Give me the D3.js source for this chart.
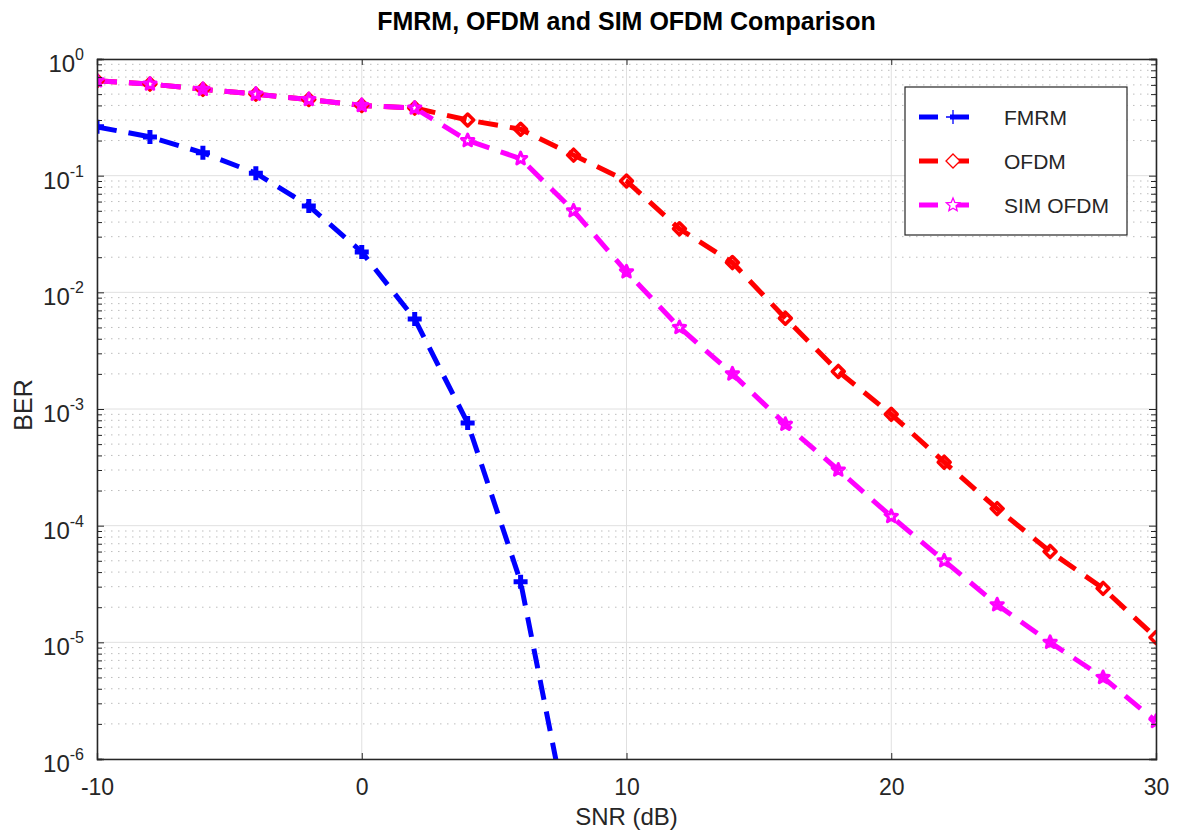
<!DOCTYPE html>
<html lang="en">
<head>
<meta charset="UTF-8">
<title>FMRM, OFDM and SIM OFDM Comparison</title>
<script src="https://cdnjs.cloudflare.com/ajax/libs/d3/7.8.5/d3.min.js"></script>
<style>
  body { margin: 0; background: #fff; }
  svg text { font-family: "Liberation Sans", Arial, sans-serif; }
</style>
</head>
<body>
<svg id="chart" width="1179" height="835"></svg>
<script>
// data
var snr = [-10, -8, -6, -4, -2, 0, 2, 4, 6, 8, 10, 12, 14, 16, 18, 20, 22, 24, 26, 28, 30];
var fmrmSnr = [-10, -8, -6, -4, -2, 0, 2, 4, 6, 8];
var fmrmBer = [0.262, 0.215, 0.157, 0.105, 0.055, 0.0222, 0.0059, 7.6e-4, 3.3e-5, 1.7e-7];
var ofdmBer = [0.65, 0.61, 0.55, 0.5, 0.45, 0.40, 0.38, 0.30, 0.25, 0.15, 0.09, 0.035, 0.018,
               0.006, 0.0021, 9e-4, 3.5e-4, 1.4e-4, 6e-5, 2.9e-5, 1.1e-5];
var simBer = [0.65, 0.61, 0.55, 0.5, 0.45, 0.40, 0.38, 0.20, 0.14, 0.05, 0.015, 0.005, 0.002,
              7.4e-4, 3e-4, 1.2e-4, 5e-5, 2.1e-5, 1e-5, 5e-6, 2.1e-6];
var xTicks = [-10, 0, 10, 20, 30];
var yTicks = [1, 1e-1, 1e-2, 1e-3, 1e-4, 1e-5, 1e-6];
var seriesNames = ['FMRM', 'OFDM', 'SIM OFDM'];
var seriesColors = ['#0000ff', '#ff0000', '#ff00ff'];
var seriesMarkers = ['plus', 'diamond', 'star'];

var svg = d3.select('#chart');
var margin = {top: 59, right: 23, bottom: 76, left: 97};
var width = 1179 - margin.left - margin.right;
var height = 835 - margin.top - margin.bottom;
var axisColor = '#262626';

var x = d3.scaleLinear().domain([-10, 30]).range([0, width]);
var y = d3.scaleLog().domain([1e-6, 1]).range([height, 0]);

var g = svg.append('g')
    .attr('transform', 'translate(' + margin.left + ',' + margin.top + ')');

// minor grid (dotted)
var minor = [];
for (var e = -6; e < 0; e++) {
    for (var m = 2; m <= 9; m++) minor.push(m * Math.pow(10, e));
}
g.selectAll('.minor-grid')
    .data(minor)
    .enter().append('line')
    .attr('x1', 0).attr('x2', width)
    .attr('y1', function (d) { return y(d); })
    .attr('y2', function (d) { return y(d); })
    .attr('stroke', '#bdbdbd')
    .attr('stroke-width', 1)
    .attr('stroke-dasharray', '1.5,5.5');

// major grid
g.selectAll('.ygrid')
    .data(yTicks)
    .enter().append('line')
    .attr('x1', 0).attr('x2', width)
    .attr('y1', function (d) { return y(d); })
    .attr('y2', function (d) { return y(d); })
    .attr('stroke', '#e0e0e0')
    .attr('stroke-width', 1);
g.selectAll('.xgrid')
    .data(xTicks)
    .enter().append('line')
    .attr('y1', 0).attr('y2', height)
    .attr('x1', function (d) { return x(d); })
    .attr('x2', function (d) { return x(d); })
    .attr('stroke', '#e0e0e0')
    .attr('stroke-width', 1);

// clip for the lines
svg.append('defs').append('clipPath').attr('id', 'clip')
    .append('rect').attr('width', width).attr('height', height);

var line = d3.line()
    .x(function (d) { return x(d[0]); })
    .y(function (d) { return y(d[1]); });

var series = [
    d3.zip(fmrmSnr, fmrmBer),
    d3.zip(snr, ofdmBer),
    d3.zip(snr, simBer)
];

function markerPath(type, r) {
    if (type === 'plus') {
        return 'M' + (-r) + ',0L' + r + ',0M0,' + (-r) + 'L0,' + r;
    }
    if (type === 'diamond') {
        return 'M0,' + (-r) + 'L' + r + ',0L0,' + r + 'L' + (-r) + ',0Z';
    }
    // pentagram
    var pts = [];
    for (var i = 0; i < 10; i++) {
        var a = -Math.PI / 2 + i * Math.PI / 5;
        var rr = i % 2 === 0 ? r : r * 0.45;
        pts.push([rr * Math.cos(a), rr * Math.sin(a)]);
    }
    return 'M' + pts.map(function (p) { return p[0].toFixed(2) + ',' + p[1].toFixed(2); }).join('L') + 'Z';
}

var plotArea = g.append('g').attr('clip-path', 'url(#clip)');

series.forEach(function (data, i) {
    plotArea.append('path')
        .datum(data)
        .attr('d', line)
        .attr('fill', 'none')
        .attr('stroke', seriesColors[i])
        .attr('stroke-width', 5)
        .attr('stroke-dasharray', '20,12');
});

var markerSize = {plus: 7, diamond: 6, star: 6.5};
var markerWidth = {plus: 5, diamond: 3.5, star: 3};
series.forEach(function (data, i) {
    var type = seriesMarkers[i];
    plotArea.selectAll('.mk' + i)
        .data(data.filter(function (d) { return d[1] >= 1e-6; }))
        .enter().append('path')
        .attr('transform', function (d) { return 'translate(' + x(d[0]) + ',' + y(d[1]) + ')'; })
        .attr('d', markerPath(type, markerSize[type]))
        .attr('fill', 'none')
        .attr('stroke', seriesColors[i])
        .attr('stroke-width', markerWidth[type])
        .attr('stroke-linejoin', 'round');
});

// axes box with inward ticks
var xAxisB = d3.axisBottom(x).tickValues(xTicks).tickSize(-6).tickPadding(20)
    .tickFormat(function (d) { return String(d); });
var xAxisT = d3.axisTop(x).tickValues(xTicks).tickSize(-6).tickFormat('');
var yAxisL = d3.axisLeft(y).tickValues(yTicks).tickSize(-7).tickFormat('');
var yAxisR = d3.axisRight(y).tickValues(yTicks).tickSize(-7).tickFormat('');
var yMinorL = d3.axisLeft(y).tickValues(minor).tickSize(-5).tickFormat('');
var yMinorR = d3.axisRight(y).tickValues(minor).tickSize(-5).tickFormat('');

function styleAxis(sel) {
    sel.selectAll('path').attr('stroke', axisColor).attr('stroke-width', 1.3);
    sel.selectAll('line').attr('stroke', axisColor).attr('stroke-width', 1);
    sel.selectAll('text').attr('fill', axisColor).style('font-size', '23px')
        .style('font-family', '"Liberation Sans", Arial, sans-serif');
}

g.append('g').attr('transform', 'translate(0,' + height + ')').call(xAxisB).call(styleAxis);
g.append('g').call(xAxisT).call(styleAxis);
g.append('g').call(yMinorL).call(styleAxis);
g.append('g').attr('transform', 'translate(' + width + ',0)').call(yMinorR).call(styleAxis);
g.append('g').call(yAxisL).call(styleAxis);
g.append('g').attr('transform', 'translate(' + width + ',0)').call(yAxisR).call(styleAxis);

// y tick labels as 10^n
g.selectAll('.ylab')
    .data(yTicks)
    .enter().append('text')
    .attr('x', -13)
    .attr('y', function (d) { return y(d) + 13; })
    .attr('text-anchor', 'end')
    .attr('fill', axisColor)
    .style('font-size', '24px')
    .each(function (d) {
        var t = d3.select(this);
        t.append('tspan').text('10');
        t.append('tspan').attr('dy', -12).style('font-size', '16px')
            .text(Math.round(Math.log10(d)));
    });

// title and labels
svg.append('text')
    .attr('x', margin.left + width / 2)
    .attr('y', 30)
    .attr('text-anchor', 'middle')
    .style('font-size', '25px')
    .style('font-weight', 'bold')
    .attr('fill', '#000')
    .text('FMRM, OFDM and SIM OFDM Comparison');

svg.append('text')
    .attr('x', margin.left + width / 2)
    .attr('y', 825)
    .attr('text-anchor', 'middle')
    .style('font-size', '24px')
    .attr('fill', axisColor)
    .text('SNR (dB)');

svg.append('text')
    .attr('transform', 'translate(32,' + (margin.top + height / 2 - 4) + ') rotate(-90)')
    .attr('text-anchor', 'middle')
    .style('font-size', '25px')
    .attr('fill', axisColor)
    .text('BER');

// legend
var legend = svg.append('g').attr('transform', 'translate(905,87)');
legend.append('rect')
    .attr('width', 222).attr('height', 148)
    .attr('fill', '#fff')
    .attr('stroke', axisColor)
    .attr('stroke-width', 1.2);

seriesNames.forEach(function (name, i) {
    var ly = 30 + i * 44;
    legend.append('line')
        .attr('x1', 14).attr('x2', 70)
        .attr('y1', ly).attr('y2', ly)
        .attr('stroke', seriesColors[i])
        .attr('stroke-width', 5)
        .attr('stroke-dasharray', '19,12');
    legend.append('path')
        .attr('transform', 'translate(48,' + ly + ')')
        .attr('d', markerPath(seriesMarkers[i], 7))
        .attr('fill', seriesMarkers[i] === 'plus' ? 'none' : '#fff')
        .attr('stroke', seriesColors[i])
        .attr('stroke-width', 1.3);
    legend.append('text')
        .attr('x', 99)
        .attr('y', ly + 8)
        .style('font-size', '21px')
        .attr('fill', axisColor)
        .text(name);
});
</script>
</body>
</html>
